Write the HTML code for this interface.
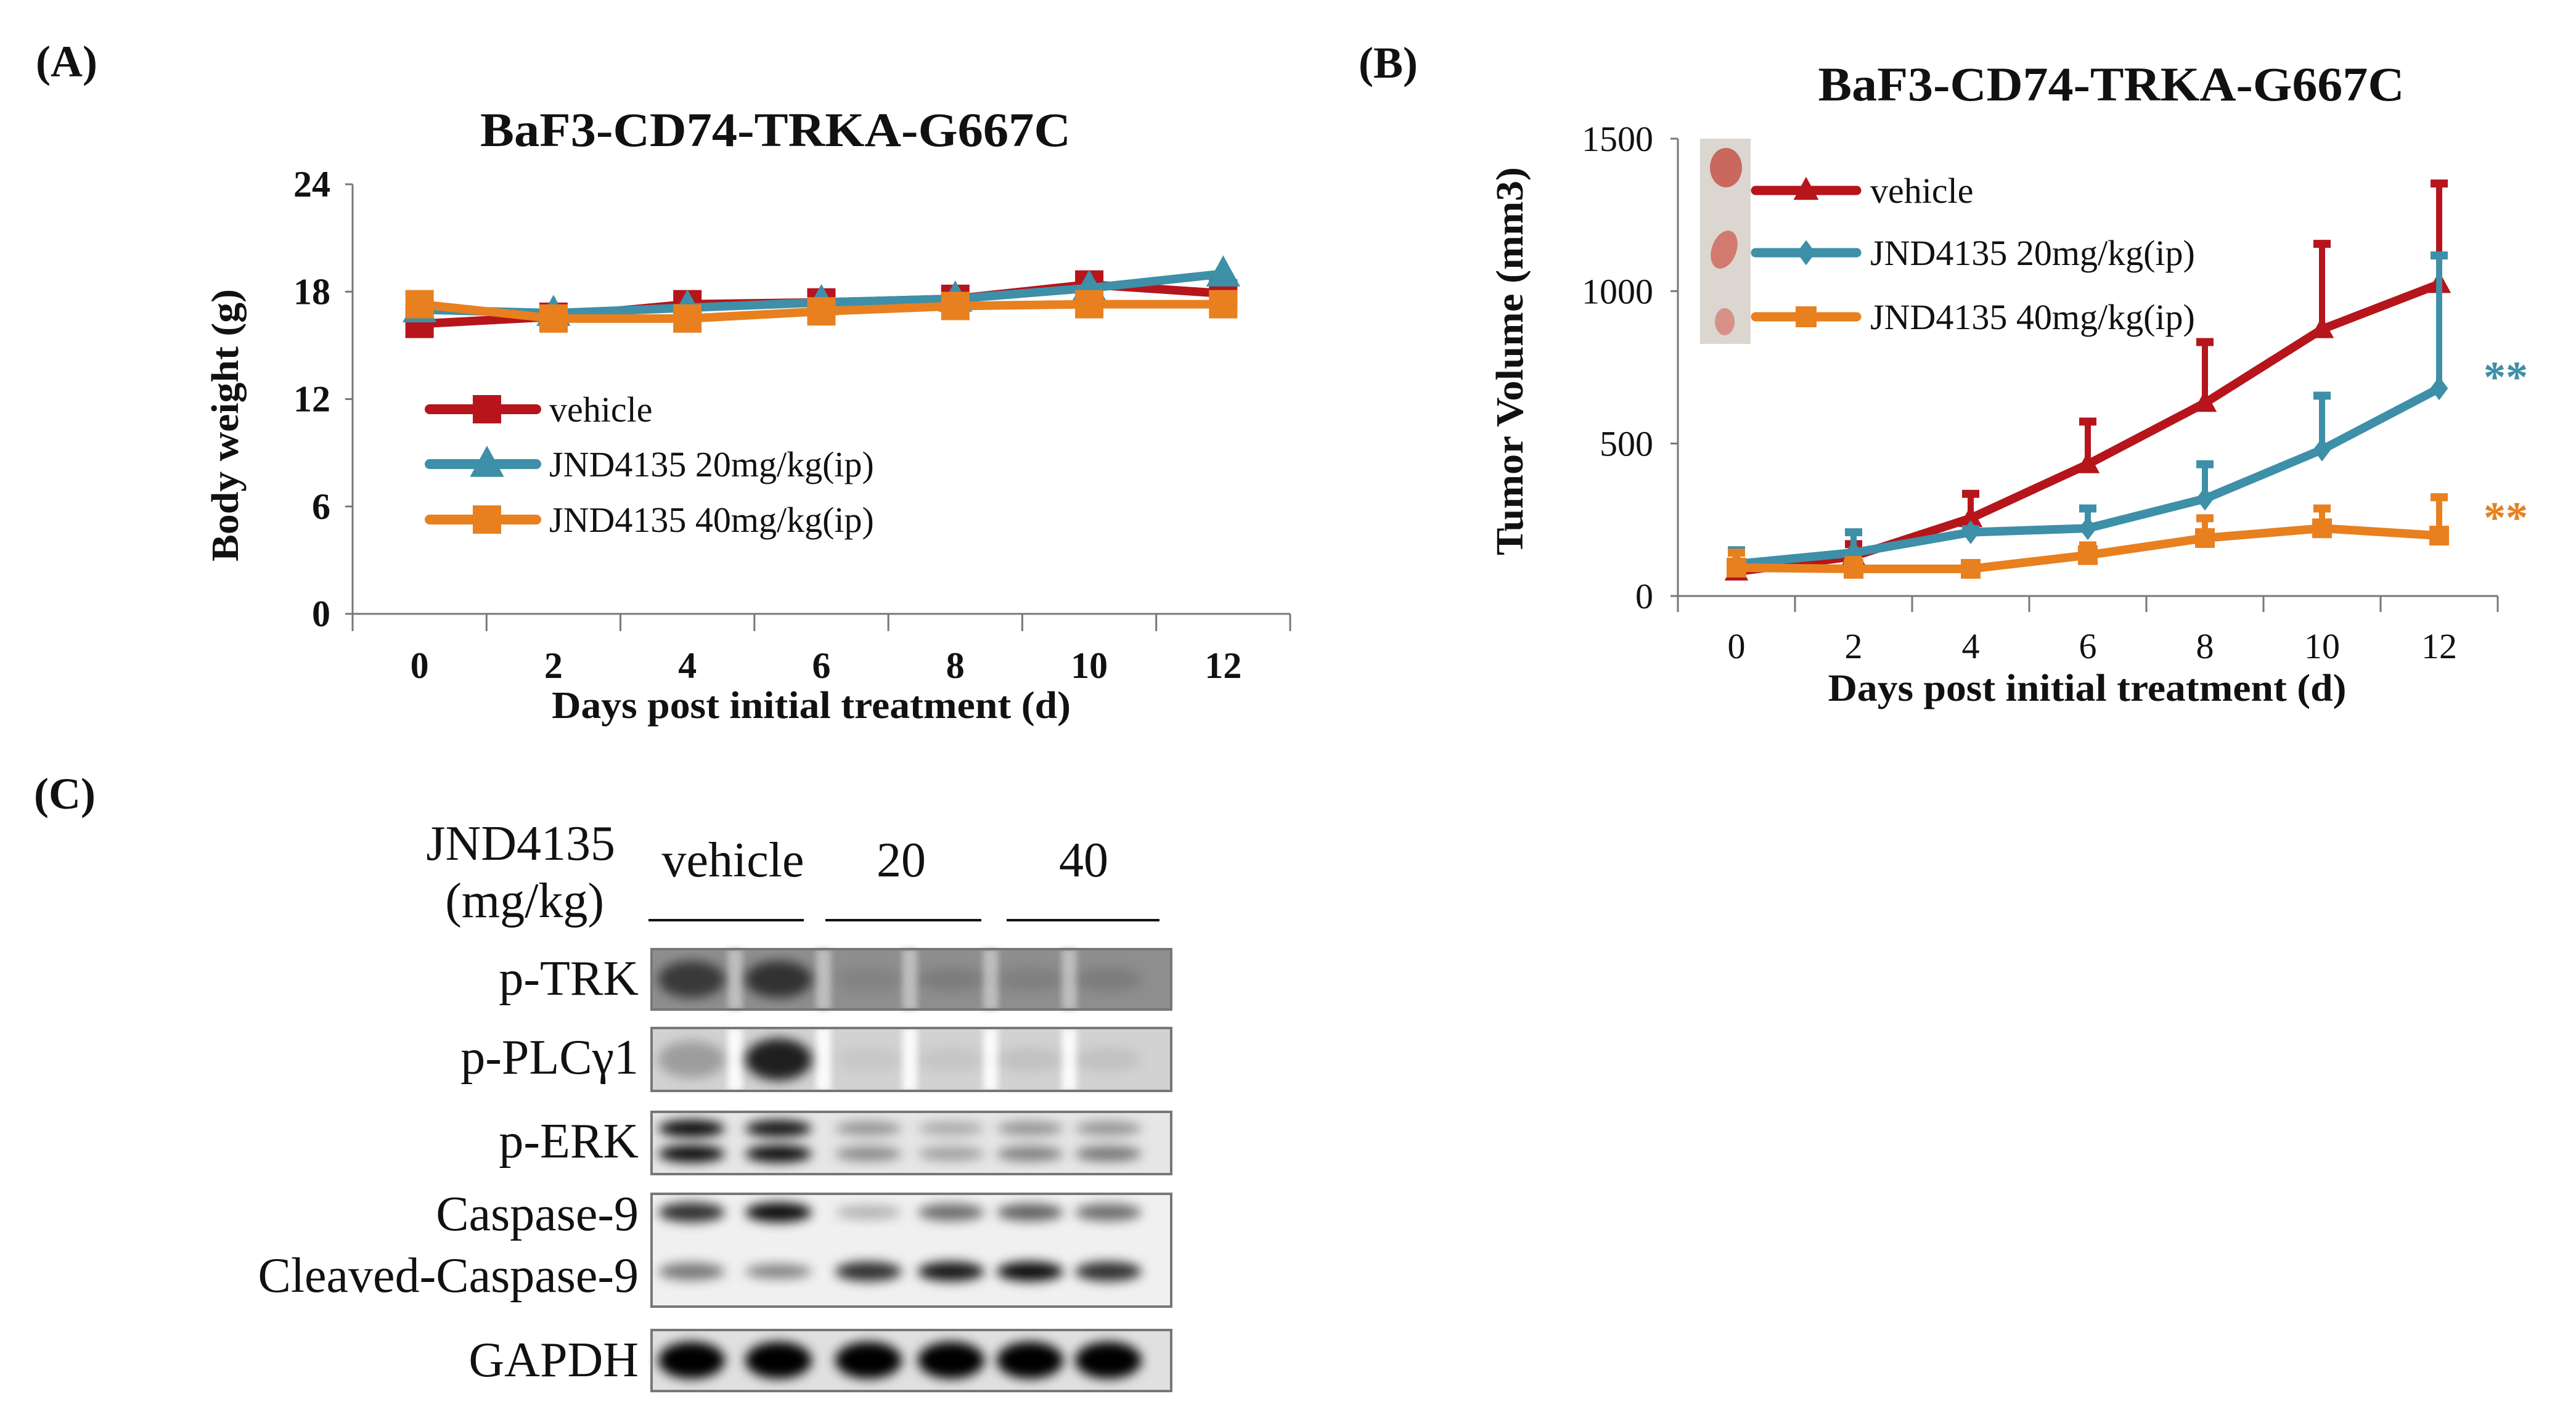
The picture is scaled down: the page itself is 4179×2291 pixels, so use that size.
<!DOCTYPE html>
<html><head><meta charset="utf-8">
<style>
html,body{margin:0;padding:0;background:#fff;}
svg{display:block;}
text{font-family:"Liberation Serif",serif;fill:#111;}
</style></head>
<body>
<svg id="fig" width="4179" height="2291" viewBox="0 0 4179 2291" xmlns="http://www.w3.org/2000/svg">
<defs>
<filter id="blur" x="-30%" y="-60%" width="160%" height="220%"><feGaussianBlur stdDeviation="9"/></filter>
<filter id="blur2" x="-30%" y="-60%" width="160%" height="220%"><feGaussianBlur stdDeviation="5"/></filter>
</defs>
<text x="58" y="124" font-size="72" font-weight="bold">(A)</text>
<text x="2204" y="126" font-size="72" font-weight="bold">(B)</text>
<text x="55" y="1312" font-size="72" font-weight="bold">(C)</text>

<g id="chartA"></g>
<g id="chartB"></g>
<g id="blot"></g>
</svg>
<script>
// ---------- Panel A data ----------
const daysA = [0, 2, 4, 6, 8, 10, 12];
const yTicksA = [0, 6, 12, 18, 24];
const vehicleA = [16.2, 16.6, 17.3, 17.4, 17.6, 18.4, 17.9];
const mg20A = [17.0, 16.8, 17.1, 17.4, 17.6, 18.2, 19.0];
const mg40A = [17.3, 16.5, 16.5, 16.9, 17.2, 17.3, 17.3];
// ---------- Panel B data ----------
const daysB = [0, 2, 4, 6, 8, 10, 12];
const yTicksB = [0, 500, 1000, 1500];
const vehicleB = [80, 130, 255, 432, 633, 875, 1023];
const vehicleBErr = [20, 40, 80, 140, 200, 280, 330];
const mg20B = [105, 142, 209, 222, 319, 480, 681];
const mg20BErr = [45, 67, 10, 65, 113, 177, 436];
const mg40B = [93, 89, 89, 134, 190, 222, 198];
const mg40BErr = [49, 29, 8, 32, 65, 65, 126];
const seriesNames = ["vehicle", "JND4135 20mg/kg(ip)", "JND4135 40mg/kg(ip)"];

const NS = "http://www.w3.org/2000/svg";
const RED = "#B5151B", TEAL = "#3E8FA8", ORANGE = "#E8801F";
function mk(tag, attrs, parent, txt){
  const e = document.createElementNS(NS, tag);
  for (const k in attrs) e.setAttribute(k, attrs[k]);
  if (txt !== undefined) e.textContent = txt;
  parent.appendChild(e);
  return e;
}
function marker(shape, x, y, s, color, parent){
  if (shape === "square") return mk("rect", {x:x-s/2, y:y-s/2, width:s, height:s, fill:color}, parent);
  if (shape === "triangle") return mk("polygon", {points:`${x},${y-s*0.65} ${x-s*0.6},${y+s*0.45} ${x+s*0.6},${y+s*0.45}`, fill:color}, parent);
  return mk("polygon", {points:`${x},${y-s*0.6} ${x+s*0.45},${y} ${x},${y+s*0.6} ${x-s*0.45},${y}`, fill:color}, parent);
}

// ================= Panel A =================
(function(){
  const g = document.getElementById("chartA");
  const X0 = 572, X1 = 2093, Y0 = 996, Ytop = 299;
  const band = (X1 - X0) / daysA.length;
  const xs = i => X0 + band * (i + 0.5);
  const ys = v => Y0 - (v / 24) * (Y0 - Ytop);
  let t = mk("text", {x:1258, y:237, "font-size":78, "font-weight":"bold", "text-anchor":"middle", textLength:958, lengthAdjust:"spacingAndGlyphs"}, g, "BaF3-CD74-TRKA-G667C");
  
  
  let ax = mk("line", {x1:X0, y1:Ytop, x2:X0, y2:Y0, stroke:"#777", "stroke-width":3}, g);
  
  
  let axx = mk("line", {x1:X0, y1:Y0, x2:X1, y2:Y0, stroke:"#777", "stroke-width":3}, g);
  
  
  for (let i = 0; i <= daysA.length; i++) mk("line", {x1:X0+band*i, y1:Y0, x2:X0+band*i, y2:Y0+28, stroke:"#777", "stroke-width":3}, g);
  yTicksA.forEach(v => {
    mk("line", {x1:X0-12, y1:ys(v), x2:X0, y2:ys(v), stroke:"#777", "stroke-width":3}, g);
    const l = mk("text", {x:536, y:ys(v)+20, "font-size":60, "font-weight":"bold", "text-anchor":"end"}, g, String(v));
    
    
  });
  daysA.forEach((d, i) => {
    const l = mk("text", {x:xs(i), y:1100, "font-size":60, "font-weight":"bold", "text-anchor":"middle"}, g, String(d));
    
    
  });
  t = mk("text", {x:1316, y:1165, "font-size":62, "font-weight":"bold", "text-anchor":"middle", textLength:842, lengthAdjust:"spacingAndGlyphs"}, g, "Days post initial treatment (d)");
  
  
  t = mk("text", {x:0, y:0, "font-size":62, "font-weight":"bold", "text-anchor":"middle", textLength:442, lengthAdjust:"spacingAndGlyphs", transform:"translate(386,690) rotate(-90)"}, g, "Body weight (g)");
  
  
  const sets = [[vehicleA, RED, "square", "series-vehicle-a"], [mg20A, TEAL, "triangle", "series-20mg-a"], [mg40A, ORANGE, "square", "series-40mg-a"]];
  sets.forEach(([vals, col, shp, nm]) => {
    const sg = mk("g", {}, g);
    
    
    mk("polyline", {points:vals.map((v,i)=>`${xs(i)},${ys(v)}`).join(" "), fill:"none", stroke:col, "stroke-width":14, "stroke-linejoin":"round"}, sg);
    vals.forEach((v,i) => {
      const m = marker(shp, xs(i), ys(v), shp==="triangle"?46:46, col, sg);
      
      
    });
  });
  const legY = [664, 753, 843], legC = [RED, TEAL, ORANGE], legS = ["square","triangle","square"];
  seriesNames.forEach((n, i) => {
    const lg = mk("g", {}, g);
    
    
    mk("line", {x1:697, y1:legY[i], x2:870, y2:legY[i], stroke:legC[i], "stroke-width":16, "stroke-linecap":"round"}, lg);
    marker(legS[i], 790, legY[i], 46, legC[i], lg);
    mk("text", {x:891, y:legY[i]+20, "font-size":58}, lg, n);
  });
})();

// ================= Panel B =================
(function(){
  const g = document.getElementById("chartB");
  const X0 = 2722, X1 = 4052, Y0 = 967, Ytop = 225;
  const band = (X1 - X0) / daysB.length;
  const xs = i => X0 + band * (i + 0.5);
  const ys = v => Y0 - (v / 1500) * (Y0 - Ytop);
  let t = mk("text", {x:3425, y:163, "font-size":78, "font-weight":"bold", "text-anchor":"middle", textLength:951, lengthAdjust:"spacingAndGlyphs"}, g, "BaF3-CD74-TRKA-G667C");
  
  
  const ph = mk("g", {}, g);
  
  
  mk("rect", {x:2758, y:225, width:82, height:333, fill:"#dcd6d0"}, ph);
  mk("ellipse", {cx:2800, cy:272, rx:26, ry:32, fill:"#c8685e"}, ph);
  mk("ellipse", {cx:2797, cy:405, rx:20, ry:32, fill:"#d27a70", transform:"rotate(20 2797 405)"}, ph);
  mk("ellipse", {cx:2798, cy:522, rx:16, ry:22, fill:"#d89188"}, ph);
  let ax = mk("line", {x1:X0, y1:Ytop, x2:X0, y2:Y0, stroke:"#777", "stroke-width":3}, g);
  
  
  let axx = mk("line", {x1:X0, y1:Y0, x2:X1, y2:Y0, stroke:"#777", "stroke-width":3}, g);
  
  
  for (let i = 0; i <= daysB.length; i++) mk("line", {x1:X0+band*i, y1:Y0, x2:X0+band*i, y2:Y0+26, stroke:"#777", "stroke-width":3}, g);
  yTicksB.forEach(v => {
    mk("line", {x1:X0-12, y1:ys(v), x2:X0, y2:ys(v), stroke:"#777", "stroke-width":3}, g);
    const l = mk("text", {x:2682, y:ys(v)+20, "font-size":58, "text-anchor":"end"}, g, String(v));
    
    
  });
  daysB.forEach((d, i) => {
    const l = mk("text", {x:xs(i), y:1068, "font-size":58, "text-anchor":"middle"}, g, String(d));
    
    
  });
  t = mk("text", {x:3386, y:1137, "font-size":62, "font-weight":"bold", "text-anchor":"middle", textLength:841, lengthAdjust:"spacingAndGlyphs"}, g, "Days post initial treatment (d)");
  
  
  t = mk("text", {x:0, y:0, "font-size":62, "font-weight":"bold", "text-anchor":"middle", textLength:630, lengthAdjust:"spacingAndGlyphs", transform:"translate(2470,586) rotate(-90)"}, g, "Tumor Volume (mm3)");
  
  
  const sets = [[vehicleB, vehicleBErr, RED, "triangle", "series-vehicle-b"], [mg20B, mg20BErr, TEAL, "diamond", "series-20mg-b"], [mg40B, mg40BErr, ORANGE, "square", "series-40mg-b"]];
  sets.forEach(([vals, errs, col, shp, nm]) => {
    const sg = mk("g", {}, g);
    
    
    vals.forEach((v,i) => {
      const e = mk("g", {}, sg);
      
      
      mk("line", {x1:xs(i), y1:ys(v), x2:xs(i), y2:ys(v+errs[i]), stroke:col, "stroke-width":10}, e);
      mk("line", {x1:xs(i)-14, y1:ys(v+errs[i]), x2:xs(i)+14, y2:ys(v+errs[i]), stroke:col, "stroke-width":13}, e);
    });
    mk("polyline", {points:vals.map((v,i)=>`${xs(i)},${ys(v)}`).join(" "), fill:"none", stroke:col, "stroke-width":14, "stroke-linejoin":"round"}, sg);
    vals.forEach((v,i) => {
      const m = marker(shp, xs(i), ys(v), 32, col, sg);
      
      
    });
  });
  const legY = [309, 410, 514], legC = [RED, TEAL, ORANGE], legS = ["triangle","diamond","square"];
  seriesNames.forEach((n, i) => {
    const lg = mk("g", {}, g);
    
    
    mk("line", {x1:2848, y1:legY[i], x2:3012, y2:legY[i], stroke:legC[i], "stroke-width":15, "stroke-linecap":"round"}, lg);
    marker(legS[i], 2930, legY[i], 34, legC[i], lg);
    mk("text", {x:3034, y:legY[i]+20, "font-size":58}, lg, n);
  });
  let s1 = mk("text", {x:4065, y:636, "font-size":72, "font-weight":"bold", "text-anchor":"middle", style:"fill:"+TEAL}, g, "**");
  
  
  let s2 = mk("text", {x:4065, y:864, "font-size":72, "font-weight":"bold", "text-anchor":"middle", style:"fill:"+ORANGE}, g, "**");
  
  
})();

// ================= Panel C (western blot) =================
const laneCenters = [1122, 1263, 1409, 1543, 1671, 1798];
const blotRows = [
  {name:"p-TRK", y0:1540, y1:1638, bg:"#8e8e8e", sep:true, bands:[[1589,0.6,30],[1589,0.65,30],[1589,0.08,20],[1589,0.12,20],[1589,0.1,20],[1589,0.12,20]]},
  {name:"p-PLCγ1", y0:1668, y1:1770, bg:"#d2d2d2", sep:true, bands:[[1719,0.25,30],[1719,0.85,34],[1719,0.05,20],[1719,0.06,20],[1719,0.08,20],[1719,0.08,20]]},
  {name:"p-ERK", y0:1804, y1:1905, bg:"#e6e6e6", sep:false, bands:[[1831,0.95,14],[1831,0.9,14],[1831,0.35,12],[1831,0.25,12],[1831,0.35,12],[1831,0.35,12]], bands2:[[1872,0.95,14],[1872,0.95,14],[1872,0.4,12],[1872,0.3,12],[1872,0.45,12],[1872,0.5,12]]},
  {name:"Caspase", y0:1937, y1:2120, bg:"#f0f0f0", sep:false, bands:[[1967,0.8,16],[1967,0.95,16],[1967,0.25,12],[1967,0.55,14],[1967,0.6,14],[1967,0.55,14]], bands2:[[2063,0.5,14],[2063,0.45,12],[2063,0.8,16],[2063,0.9,16],[2063,0.95,16],[2063,0.8,16]]},
  {name:"GAPDH", y0:2158, y1:2257, bg:"#e0e0e0", sep:false, bands:[[2207,1,30],[2207,1,30],[2207,1,30],[2207,1,30],[2207,1,30],[2207,1,30]]}
];
(function(){
  const g = document.getElementById("blot");
  const lbl = (x, y, s, nm, anchor) => {
    const t = mk("text", {x:x, y:y, "font-size":80, "text-anchor":anchor||"end"}, g, s);
    
    
  };
  lbl(998, 1395, "JND4135", "treatment-label");
  lbl(980, 1488, "(mg/kg)", "dose-unit-label");
  lbl(1189, 1422, "vehicle", "group-vehicle-label", "middle");
  lbl(1462, 1422, "20", "group-20-label", "middle");
  lbl(1758, 1422, "40", "group-40-label", "middle");
  [[1052,1304],[1339,1592],[1633,1881]].forEach(([a,b]) => {
    const l = mk("line", {x1:a, y1:1493, x2:b, y2:1493, stroke:"#111", "stroke-width":4}, g);
    
    
  });
  blotRows.forEach(r => {
    const rg = mk("g", {}, g);
    
    
    mk("rect", {x:1057, y:r.y0, width:843, height:r.y1-r.y0, fill:r.bg}, rg);
    if (r.sep) {
      for (let i = 0; i < 5; i++) {
        const sx = (laneCenters[i] + laneCenters[i+1]) / 2;
        mk("rect", {x:sx-12, y:r.y0, width:24, height:r.y1-r.y0, fill:r.name==="p-TRK"?"#bdbdbd":"#fafafa", filter:"url(#blur2)"}, rg);
      }
    }
    [r.bands, r.bands2].forEach(bs => {
      if (!bs) return;
      bs.forEach((b, i) => {
        mk("ellipse", {cx:laneCenters[i], cy:b[0], rx:54, ry:b[2], fill:"#000", "fill-opacity":b[1], filter:"url(#blur)"}, rg);
      });
    });
    mk("rect", {x:1057, y:r.y0, width:843, height:r.y1-r.y0, fill:"none", stroke:"#777", "stroke-width":4}, rg);
  });
  lbl(1036, 1614, "p-TRK", "label-p-trk");
  lbl(1036, 1742, "p-PLCγ1", "label-p-plcg1");
  lbl(1036, 1878, "p-ERK", "label-p-erk");
  lbl(1036, 1996, "Caspase-9", "label-caspase-9");
  lbl(1036, 2096, "Cleaved-Caspase-9", "label-cleaved-caspase-9");
  lbl(1036, 2233, "GAPDH", "label-gapdh");
})();
</script>
</body></html>
